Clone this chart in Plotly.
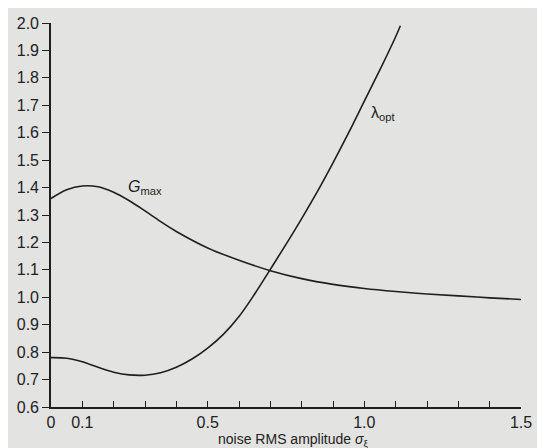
import plotly.graph_objects as go

# data
sigma_g = [0, 0.05, 0.1, 0.15, 0.2, 0.25, 0.3, 0.35, 0.4, 0.5, 0.6, 0.7, 0.8, 0.9, 1.0, 1.1, 1.2, 1.3, 1.4, 1.5]
g_max = [1.36, 1.392, 1.406, 1.403, 1.383, 1.352, 1.315, 1.276, 1.24, 1.18, 1.135, 1.097, 1.068, 1.047, 1.032, 1.021, 1.012, 1.005, 0.998, 0.992]

sigma_l = [0, 0.05, 0.1, 0.15, 0.2, 0.25, 0.3, 0.35, 0.4, 0.45, 0.5, 0.55, 0.6, 0.65, 0.7, 0.75, 0.8, 0.85, 0.9, 0.95, 1.0, 1.05, 1.1, 1.115]
lam_opt = [0.78, 0.778, 0.765, 0.745, 0.727, 0.717, 0.716, 0.725, 0.745, 0.775, 0.815, 0.865, 0.93, 1.012, 1.102, 1.193, 1.287, 1.385, 1.49, 1.60, 1.715, 1.83, 1.95, 1.99]

x_tickvals = [round(0.1 * i, 1) for i in range(16)]
x_ticktext = ["0", "0.1", "", "", "", "0.5", "", "", "", "", "1.0", "", "", "", "", "1.5"]
y_tickvals = [round(0.6 + 0.1 * i, 1) for i in range(15)]
y_ticktext = [f"{v:.1f}" for v in y_tickvals]

line_col = "#1f1f1f"
text_col = "#222222"
bg = "#e3e3e1"
fam = "Liberation Sans, Arial, sans-serif"

fig = go.Figure()
fig.add_trace(go.Scatter(x=sigma_g, y=g_max, mode="lines", line=dict(color=line_col, width=1.6, shape="spline"),
                         showlegend=False, hoverinfo="skip"))
fig.add_trace(go.Scatter(x=sigma_l, y=lam_opt, mode="lines", line=dict(color=line_col, width=1.6, shape="spline"),
                         showlegend=False, hoverinfo="skip"))

fig.add_annotation(x=0.30, y=1.40, text="<i>G</i><sub>max</sub>", showarrow=False, xanchor="center", yanchor="middle",
                   font=dict(family=fam, size=16, color=text_col))
fig.add_annotation(x=1.06, y=1.67, text="λ<sub>opt</sub>", showarrow=False, xanchor="center", yanchor="middle",
                   font=dict(family=fam, size=16, color=text_col))
fig.add_annotation(x=0.515, xref="paper", y=-0.087, yref="paper", yanchor="middle",
                   text="noise RMS amplitude <i>σ</i><sub>ξ</sub>", showarrow=False,
                   font=dict(family=fam, size=14, color=text_col))

fig.update_layout(
    width=545, height=448,
    margin=dict(l=43, r=32, t=15, b=49),
    paper_bgcolor=bg, plot_bgcolor=bg,
    font=dict(family=fam, size=16, color=text_col),
    xaxis=dict(range=[0, 1.5], tickvals=x_tickvals, ticktext=x_ticktext, ticks="inside", ticklen=6,
               tickcolor=line_col, tickwidth=1.2, showline=True, linecolor=line_col, linewidth=1.8,
               showgrid=False, zeroline=False, automargin=False, tickfont=dict(size=16)),
    yaxis=dict(range=[0.6, 2.0], tickvals=y_tickvals, ticktext=y_ticktext, ticks="outside", ticklen=7,
               tickcolor=line_col, tickwidth=1.2, showline=True, linecolor=line_col, linewidth=1.6,
               showgrid=False, zeroline=False, automargin=False, tickfont=dict(size=16)),
)

fig.write_html("out.html")
